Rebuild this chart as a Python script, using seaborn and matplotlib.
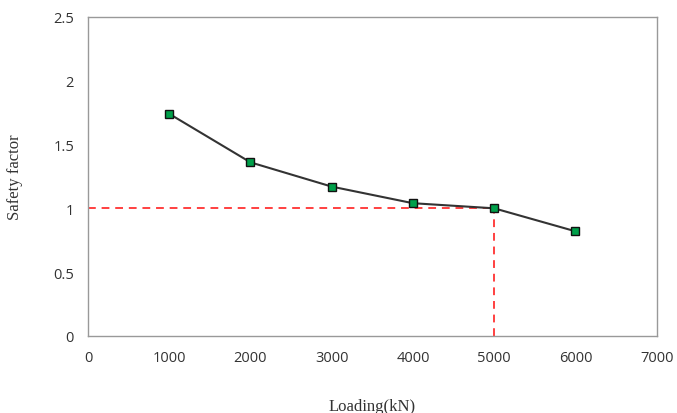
import matplotlib
matplotlib.use("Agg")
import matplotlib.pyplot as plt
import seaborn as sns
import pandas as pd

loading = [1000, 2000, 3000, 4000, 5000, 6000]
safety = [1.74, 1.36, 1.17, 1.04, 1.00, 0.82]
x_ticks = [0, 1000, 2000, 3000, 4000, 5000, 6000, 7000]
y_ticks = [0, 0.5, 1, 1.5, 2, 2.5]
y_tick_labels = ["0", "0.5", "1", "1.5", "2", "2.5"]

df = pd.DataFrame({"Loading": loading, "Safety": safety})

sns.set_style("white")
plt.rcParams["font.family"] = ["Open Sans", "DejaVu Sans"]

fig, ax = plt.subplots(figsize=(6.77, 4.14), dpi=100)
fig.subplots_adjust(left=0.13, right=0.97, top=0.957, bottom=0.186)

# limit lines at safety factor 1
ax.plot([0, 5000], [1, 1], color="#ff4040", lw=1.4, ls=(0, (4, 3)), zorder=1)
ax.plot([5000, 5000], [0, 1], color="#ff4040", lw=1.4, ls=(0, (4, 3)), zorder=1)

sns.lineplot(data=df, x="Loading", y="Safety", ax=ax, color="#333333", lw=1.5,
             marker="s", markersize=6, markerfacecolor="#00a04a",
             markeredgecolor="#111111", markeredgewidth=1.0, zorder=3)

ax.set_xlim(0, 7000)
ax.set_ylim(0, 2.5)
ax.set_xticks(x_ticks)
ax.set_yticks(y_ticks)
ax.set_yticklabels(y_tick_labels)
ax.tick_params(axis="both", length=0, labelsize=10.5, colors="#333333", pad=10)
for s in ax.spines.values():
    s.set_color("#999999")
    s.set_linewidth(1.0)

ax.set_xlabel("Loading(kN)", family="Liberation Serif", fontsize=12, labelpad=24, color="#333333")
ax.set_ylabel("Safety factor", family="Liberation Serif", fontsize=12, labelpad=22, color="#333333")

fig.savefig("out.png", dpi=100)
